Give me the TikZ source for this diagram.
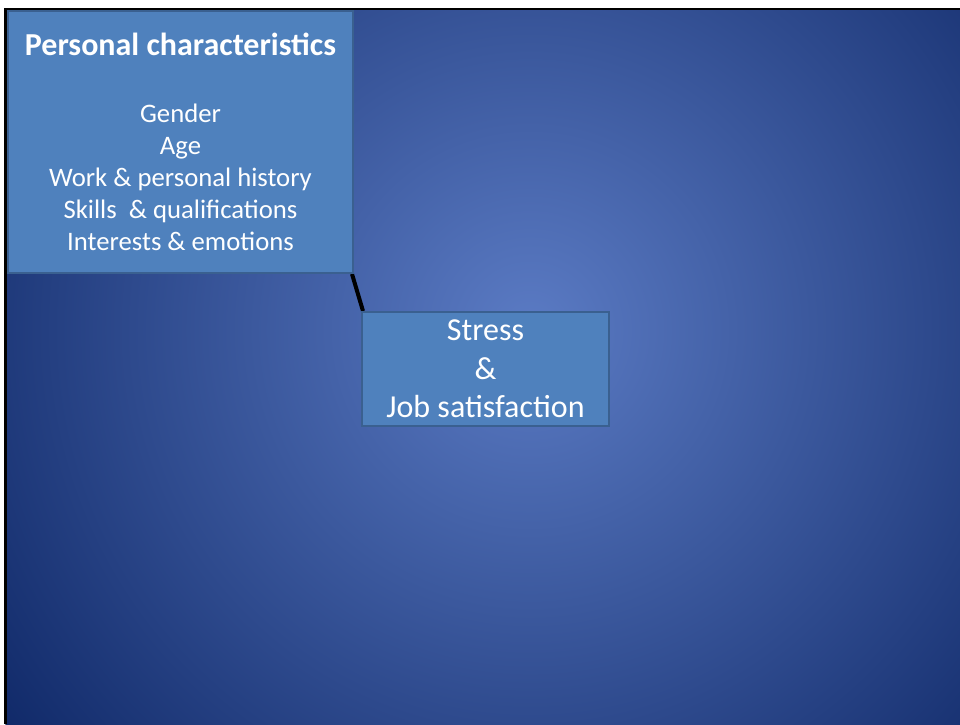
\documentclass[tikz,border=0pt]{standalone}
\usepackage{fontspec}
\setmainfont{Carlito}
\definecolor{bgin}{HTML}{5B7BC4}
\definecolor{bgout}{HTML}{0E2766}
\definecolor{boxfill}{HTML}{4F81BD}
\definecolor{boxline}{HTML}{3A6090}
\pgfdeclarelayer{bg}
\pgfdeclarelayer{mid}
\pgfsetlayers{bg,mid,main}
\tikzset{
  panel/.style={draw=boxline, line width=2pt, fill=boxfill, text=white, align=center, inner sep=0pt, anchor=north west},
  link/.style={draw=black, line width=4pt}
}
\begin{document}
\begin{tikzpicture}[x=1pt,y=-1pt]
\useasboundingbox (0,0) rectangle (960,724);
\begin{pgfonlayer}{bg}
\fill[white] (0,0) rectangle (960,724);
\begin{scope}
\clip (5.5,9) rectangle (960,724);
\fill[inner color=bgin, outer color=bgout] (530,330) circle (680);
\end{scope}
\draw[black, line width=2.5pt] (5.5,724) -- (5.5,9) -- (960,9);
\end{pgfonlayer}

\node[panel, minimum width=345pt, minimum height=262pt, font=\fontsize{26.7}{32}\selectfont] (pc) at (7,10)
  {{\fontsize{32}{32}\selectfont\textbf{Personal characteristics}}\\[35pt]
   Gender\\ Age\\ Work \& personal history\\ Skills~ \& qualifications\\ Interests \& emotions};

\node[panel, minimum width=247pt, minimum height=114pt, font=\fontsize{32}{38.5}\selectfont] (st) at (361,311)
  {Stress\\ \&\\ Job satisfaction};

\begin{pgfonlayer}{mid}
\draw[link] ([xshift=-2pt]pc.south east) -- ([xshift=2pt]st.north west);
\end{pgfonlayer}
\end{tikzpicture}
\end{document}
